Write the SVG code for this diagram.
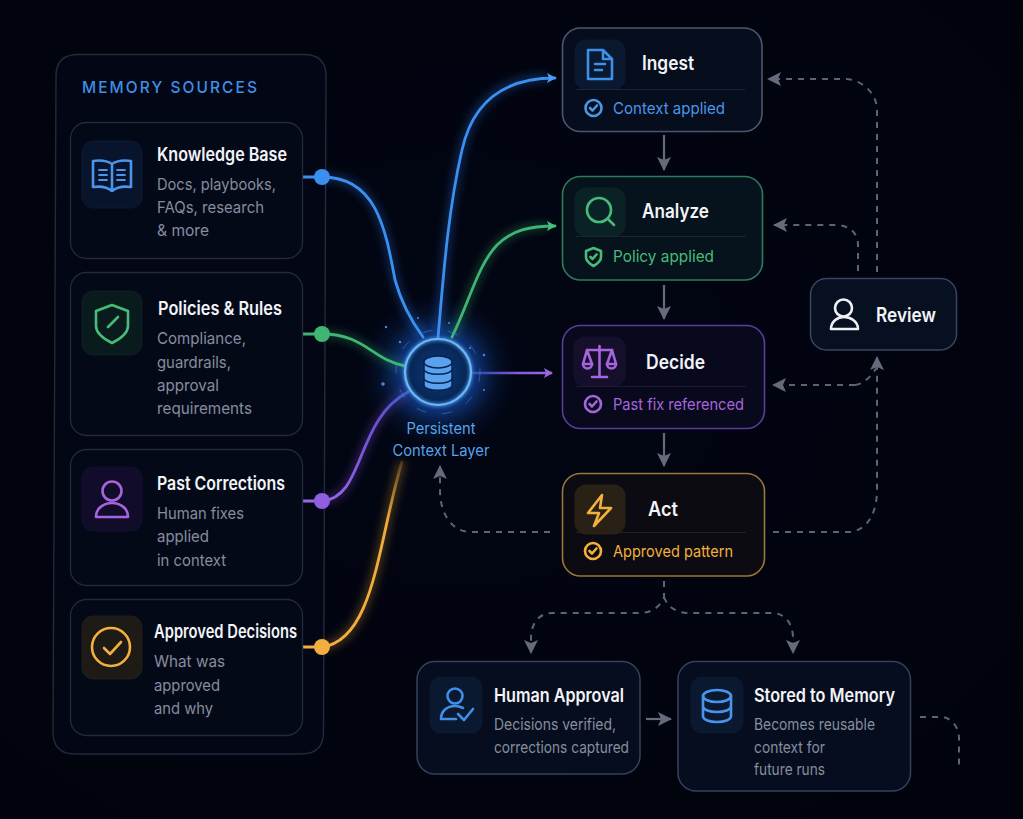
<svg xmlns="http://www.w3.org/2000/svg" width="1023" height="819" viewBox="0 0 1023 819">
<style>
text{font-family:Inter,"Liberation Sans",sans-serif}
.t{font-size:18.500px;font-weight:600;fill:#f2f4f8}
.ft{font-size:19.500px;font-weight:600;fill:#f2f4f8}
.d{font-size:16.500px;font-weight:400;fill:#868d9f}
.s{font-size:16.500px;font-weight:400}
.card{fill:#040918;stroke:#232a3d;stroke-width:1.300}
.ib{stroke-width:.8}
.ic{fill:none;stroke-width:2.600;stroke-linecap:round;stroke-linejoin:round}
.dash{fill:none;stroke:#5f6475;stroke-width:2;stroke-dasharray:6 6}
.arr{fill:none;stroke:#666b7c;stroke-width:2.200}
.c{fill:none;stroke-width:2.800;stroke-linecap:round}
.g{fill:none;stroke-width:8;opacity:.3;filter:url(#b4)}
</style>
<defs>
<filter id="b4" x="-50%" y="-50%" width="200%" height="200%"><feGaussianBlur stdDeviation="4"/></filter>
<filter id="b1" x="-50%" y="-50%" width="200%" height="200%"><feGaussianBlur stdDeviation="1.500"/></filter>
<radialGradient id="hub"><stop offset="0" stop-color="#2f7df0" stop-opacity=".85"/><stop offset=".5" stop-color="#1a5ad0" stop-opacity=".5"/><stop offset=".75" stop-color="#124aa0" stop-opacity=".16"/><stop offset="1" stop-color="#0a2a70" stop-opacity="0"/></radialGradient>
<radialGradient id="bg" cx="45%" cy="45%" r="70%"><stop offset="0" stop-color="#020614"/><stop offset="1" stop-color="#01030c"/></radialGradient>
<radialGradient id="core"><stop offset="0" stop-color="#0d3a80"/><stop offset="1" stop-color="#07234f"/></radialGradient>
<linearGradient id="fA" gradientUnits="userSpaceOnUse" x1="322" y1="647" x2="402" y2="462"><stop offset="0" stop-color="#f2ae3e"/><stop offset=".7" stop-color="#f0ad3c"/><stop offset="1" stop-color="#f0ad3c" stop-opacity=".2"/></linearGradient>
<linearGradient id="fP" gradientUnits="userSpaceOnUse" x1="322" y1="501" x2="408" y2="392"><stop offset="0" stop-color="#9a66e6"/><stop offset=".7" stop-color="#6a50d0"/><stop offset="1" stop-color="#3f5ed0"/></linearGradient>
<linearGradient id="fR" gradientUnits="userSpaceOnUse" x1="468" y1="373" x2="552" y2="373"><stop offset="0" stop-color="#3d5fd8" stop-opacity=".6"/><stop offset=".6" stop-color="#8a5be0"/><stop offset="1" stop-color="#9a66e0"/></linearGradient>
<marker id="mB" viewBox="0 0 10 10" refX="9" refY="5" markerWidth="10" markerHeight="10" markerUnits="userSpaceOnUse" orient="auto"><path d="M1 0L10 5L1 10L3 5Z" fill="#4a9cf5"/></marker>
<marker id="mG" viewBox="0 0 10 10" refX="9" refY="5" markerWidth="10" markerHeight="10" markerUnits="userSpaceOnUse" orient="auto"><path d="M1 0L10 5L1 10L3 5Z" fill="#48c07a"/></marker>
<marker id="mP" viewBox="0 0 10 10" refX="9" refY="5" markerWidth="10" markerHeight="10" markerUnits="userSpaceOnUse" orient="auto"><path d="M1 0L10 5L1 10L3 5Z" fill="#9a66e0"/></marker>
<marker id="mX" viewBox="0 0 14 14" refX="13" refY="7" markerWidth="14" markerHeight="14" markerUnits="userSpaceOnUse" orient="auto"><path d="M0 0L14 7L0 14L3 7Z" fill="#666b7c"/></marker>
</defs>
<rect width="1023" height="819" fill="url(#bg)"/>

<g id="memory-sources">
<path d="M78 54.500H304Q326 54.500 326 76L323.500 732Q323.500 754 301 754H75Q53 754 53 732L56 76Q56 54.500 78 54.500Z" fill="#030715" stroke="#232a3c" stroke-width="1.400"/>
<text x="82" y="93" textLength="177" lengthAdjust="spacingAndGlyphs" style="font-size:16.500px;font-weight:500;letter-spacing:2.200px;fill:#3f8fe6">MEMORY SOURCES</text>
</g>

<g id="connectors">
<circle cx="438" cy="372" r="78" fill="url(#hub)"/>
<path class="g" stroke="#2f80f0" d="M322 177C375 177 385 225 395 280C402 305 412 322 423 337"/>
<path class="g" stroke="#2f80f0" d="M438 338C443 280 448 210 462 150C472 105 500 78 548 78"/>
<path class="g" stroke="#34b06c" d="M322 334C365 334 372 360 405 366"/>
<path class="g" stroke="#34b06c" d="M452 337C470 300 478 265 497 245C512 230 530 226 548 226"/>
<path class="g" stroke="#8a55e0" d="M322 501C365 498 355 420 408 392"/>
<path class="g" stroke="#f0a830" d="M322 647C375 640 378 540 402 462"/>
<path class="c" stroke="#3b8ff0" d="M303 177H322C375 177 385 225 395 280C402 305 412 322 423 337"/>
<path class="c" stroke="#3b8ff0" marker-end="url(#mB)" d="M438 338C443 280 448 210 462 150C472 105 500 78 555 78"/>
<path class="c" stroke="#3fb573" d="M303 334H322C365 334 372 360 405 366"/>
<path class="c" stroke="#3fb573" marker-end="url(#mG)" d="M452 337C470 300 478 265 497 245C512 230 530 226 555 226"/>
<path class="c" stroke="url(#fP)" d="M303 501H322C365 498 355 420 408 392"/>
<path class="c" stroke="url(#fA)" d="M303 647H322C375 640 378 540 402 462"/>
<path fill="none" stroke="url(#fR)" stroke-width="2.500" marker-end="url(#mP)" d="M468 373H552"/>
<circle cx="322" cy="177" r="8" fill="#3b8ff0"/>
<circle cx="322" cy="334" r="8" fill="#3fb573"/>
<circle cx="322" cy="501" r="8" fill="#8f5fe0"/>
<circle cx="322" cy="647" r="8" fill="#f2ae3e"/>
<path class="arr" marker-end="url(#mX)" d="M664 135V170"/>
<path class="arr" marker-end="url(#mX)" d="M664 285V319"/>
<path class="arr" marker-end="url(#mX)" d="M664 433V466"/>
<path class="arr" marker-end="url(#mX)" d="M646 719H671"/>
<path class="dash" marker-end="url(#mX)" d="M877 272V110C877 92 860 79 845 79H768"/>
<path class="dash" marker-end="url(#mX)" d="M858 271V245C858 232 848 225 836 225H774"/>
<path class="dash" marker-end="url(#mX)" d="M855 385C865 384 872 375 877 367M855 385H773"/>
<path class="dash" marker-end="url(#mX)" d="M773 532H850C868 530 877 512 877 490V357"/>
<path class="dash" marker-end="url(#mX)" d="M550 532H470C450 531 440 512 440 490V466"/>
<path class="dash" marker-end="url(#mX)" d="M664 581V597C660 608 650 613 640 613H552C538 613 531 625 531 638V653"/>
<path class="dash" marker-end="url(#mX)" d="M664 597C668 608 678 613 688 613H772C786 613 793 625 793 638V653"/>
<path class="dash" d="M920 717H942C952 718 959 728 959 738V768"/>
</g>

<g id="knowledge-base">
<rect class="card" x="70.500" y="122.500" width="232" height="136" rx="16"/>
<rect class="ib" x="82" y="141" width="60" height="67" rx="11" fill="#07142b" stroke="#0d1d38"/>
<g class="ic" stroke="#4a94ec"><path d="M112 164C106 160 100 160 93 161V187C100 186 106 186 112 191C118 186 124 186 131 187V161C124 160 118 160 112 164ZM112 164V191"/><path stroke-width="1.800" d="M99 170H107M99 175H107M99 180H107M117 170H125M117 175H125M117 180H125"/></g>
<text class="t" x="157" y="161" textLength="130" lengthAdjust="spacingAndGlyphs">Knowledge Base</text>
<text class="d" x="157" y="190" textLength="119" lengthAdjust="spacingAndGlyphs">Docs, playbooks,</text>
<text class="d" x="157" y="213" textLength="107" lengthAdjust="spacingAndGlyphs">FAQs, research</text>
<text class="d" x="157" y="236" textLength="52" lengthAdjust="spacingAndGlyphs">&amp; more</text>
</g>

<g id="policies-rules">
<rect class="card" x="70.500" y="272.500" width="232" height="163" rx="16"/>
<rect class="ib" x="82" y="291" width="60" height="64" rx="11" fill="#0a1b1e" stroke="#0e2124"/>
<g class="ic" stroke="#45bd78"><path d="M112 305L128 311V326C128 333 120 339 112 343C104 339 96 333 96 326V311Z"/><path d="M108 327L118 317"/></g>
<text class="t" x="158" y="315" textLength="124" lengthAdjust="spacingAndGlyphs">Policies &amp; Rules</text>
<text class="d" x="157" y="344" textLength="89" lengthAdjust="spacingAndGlyphs">Compliance,</text>
<text class="d" x="157" y="368" textLength="74" lengthAdjust="spacingAndGlyphs">guardrails,</text>
<text class="d" x="157" y="391" textLength="62" lengthAdjust="spacingAndGlyphs">approval</text>
<text class="d" x="157" y="414" textLength="95" lengthAdjust="spacingAndGlyphs">requirements</text>
</g>

<g id="past-corrections">
<rect class="card" x="70.500" y="449.500" width="232" height="136" rx="16"/>
<rect class="ib" x="82" y="467" width="60" height="64" rx="11" fill="#110c2a" stroke="#161033"/>
<g class="ic" stroke="#a665dc"><circle cx="112" cy="491" r="9.500"/><path d="M96 517C96 508 104 503 112 503C120 503 128 508 128 517Z"/></g>
<text class="t" x="157" y="490" textLength="128" lengthAdjust="spacingAndGlyphs">Past Corrections</text>
<text class="d" x="157" y="519" textLength="87" lengthAdjust="spacingAndGlyphs">Human fixes</text>
<text class="d" x="157" y="542" textLength="52" lengthAdjust="spacingAndGlyphs">applied</text>
<text class="d" x="157" y="566" textLength="69" lengthAdjust="spacingAndGlyphs">in context</text>
</g>

<g id="approved-decisions">
<rect class="card" x="70.500" y="599.500" width="232" height="136" rx="16"/>
<rect class="ib" x="82" y="616" width="60" height="63" rx="11" fill="#1e1a16" stroke="#26211a"/>
<g class="ic" stroke="#f2b03c"><circle cx="111" cy="647" r="19"/><path d="M104 648L110 654L121 642"/></g>
<text class="t" x="154" y="638" textLength="143" lengthAdjust="spacingAndGlyphs">Approved Decisions</text>
<text class="d" x="154" y="667" textLength="71" lengthAdjust="spacingAndGlyphs">What was</text>
<text class="d" x="154" y="691" textLength="66" lengthAdjust="spacingAndGlyphs">approved</text>
<text class="d" x="154" y="714" textLength="59" lengthAdjust="spacingAndGlyphs">and why</text>
</g>

<g id="persistent-context-layer">
<circle cx="438" cy="372" r="33" fill="url(#core)" stroke="#9ad0f8" stroke-width="2.200"/>
<circle cx="438" cy="372" r="33" fill="none" stroke="#4aa0f5" stroke-width="5" opacity=".6" filter="url(#b1)"/>
<circle cx="438" cy="372" r="42" fill="none" stroke="#3f82d8" stroke-width="1" stroke-dasharray="10 16" opacity=".55"/>
<g fill="#5aa2f0" stroke="#07234f" stroke-width="1.500"><path d="M424 379V385C424 392 452 392 452 385V379Z"/><path d="M424 370V378C424 385 452 385 452 378V370Z"/><path d="M424 362V369C424 376 452 376 452 369V362Z"/><ellipse cx="438" cy="362" rx="14" ry="6"/></g>
<g fill="#4a8ae0"><circle cx="383" cy="384" r="1.800"/><circle cx="386" cy="327" r="1.200"/><circle cx="484" cy="355" r="1.200"/><circle cx="400" cy="342" r="1.200"/><circle cx="484" cy="390" r="1"/><circle cx="449" cy="323" r="1"/><circle cx="418" cy="318" r="1"/><circle cx="470" cy="348" r="1"/></g>
<text x="441" y="434" text-anchor="middle" textLength="69" lengthAdjust="spacingAndGlyphs" style="font-size:15.500px;fill:#58a3ea">Persistent</text>
<text x="441" y="456" text-anchor="middle" textLength="97" lengthAdjust="spacingAndGlyphs" style="font-size:15.500px;fill:#58a3ea">Context Layer</text>
</g>

<g id="ingest">
<rect x="562.500" y="28" width="199.500" height="103.500" rx="18" fill="#060d1c" stroke="#4c5672" stroke-width="1.600"/>
<rect class="ib" x="575" y="40" width="50" height="49" rx="11" fill="#0a1930" stroke="#0d1d36"/>
<path d="M576 89.500H745" stroke="#1c2536"/>
<g class="ic" stroke="#3f8fe8" stroke-width="2"><path d="M588 50H603L612 59V79H588ZM603 50V59H612"/><path d="M595 64H605M595 70H602"/></g>
<text class="ft" x="642" y="70" textLength="52" lengthAdjust="spacingAndGlyphs">Ingest</text>
<g class="ic" stroke="#4a97ea" stroke-width="1.800"><circle cx="593.500" cy="108" r="8"/><path d="M590 108L592.500 110.500L597 105.500"/></g>
<text class="s" x="613" y="114" fill="#4a97ea" textLength="112" lengthAdjust="spacingAndGlyphs">Context applied</text>
</g>

<g id="analyze">
<rect x="562.500" y="176.500" width="200" height="103.500" rx="18" fill="#06121c" stroke="#2f7a5c" stroke-width="1.600"/>
<rect class="ib" x="575" y="188" width="50" height="48" rx="11" fill="#0a2226" stroke="#0c2629"/>
<path d="M576 236.500H746" stroke="#16282c"/>
<g class="ic" stroke="#45bd78"><circle cx="599" cy="210" r="12"/><path d="M608 219L614 225"/></g>
<text class="ft" x="642" y="218" textLength="67" lengthAdjust="spacingAndGlyphs">Analyze</text>
<g class="ic" stroke="#45bd78" stroke-width="1.800"><path d="M593.500 248L601 251V257C601 261 597 264 593.500 266C590 264 586 261 586 257V251Z"/><path d="M590.500 257L592.500 259L596.500 254.500"/></g>
<text class="s" x="613" y="262" fill="#45bd78" textLength="101" lengthAdjust="spacingAndGlyphs">Policy applied</text>
</g>

<g id="decide">
<rect x="562.500" y="325.500" width="202" height="103" rx="18" fill="#09091e" stroke="#5a3d96" stroke-width="1.600"/>
<rect class="ib" x="574" y="337" width="51" height="49" rx="11" fill="#150f2c" stroke="#191233"/>
<path d="M576 386.500H746" stroke="#1e1a33"/>
<g class="ic" stroke="#a665dc" stroke-width="2"><path d="M599.500 346V376M592 377H607M587 350H612"/><path d="M587 350L583 364H592ZM612 350L607 364H616Z"/><path d="M583 364C583 370 592 370 592 364M607 364C607 370 616 370 616 364"/></g>
<text class="ft" x="646" y="369" textLength="59" lengthAdjust="spacingAndGlyphs">Decide</text>
<g class="ic" stroke="#a665dc" stroke-width="1.800"><circle cx="593" cy="404" r="8"/><path d="M589.500 404L592 406.500L596.500 401.500"/></g>
<text class="s" x="613" y="410" fill="#a665dc" textLength="131" lengthAdjust="spacingAndGlyphs">Past fix referenced</text>
</g>

<g id="act">
<rect x="562.500" y="473.500" width="202" height="102.500" rx="18" fill="#0b0b11" stroke="#9a7638" stroke-width="1.600"/>
<rect class="ib" x="575" y="485" width="50" height="49" rx="11" fill="#2a2116" stroke="#2f2619"/>
<path d="M576 532.500H746" stroke="#26221b"/>
<path class="ic" stroke="#f2b03c" d="M602 495L588 513H599L594 526L611 508H600Z"/>
<text class="ft" x="648" y="516" textLength="30" lengthAdjust="spacingAndGlyphs">Act</text>
<g class="ic" stroke="#f2b03c" stroke-width="1.800"><circle cx="593" cy="551" r="8"/><path d="M589.500 551L592 553.500L596.500 548.500"/></g>
<text class="s" x="613" y="557" fill="#f2b03c" textLength="120" lengthAdjust="spacingAndGlyphs">Approved pattern</text>
</g>

<g id="review">
<rect x="810.500" y="278.500" width="146" height="71.500" rx="16" fill="#071020" stroke="#3b4460" stroke-width="1.500"/>
<g class="ic" stroke="#eef0f5"><circle cx="843.500" cy="308" r="8.500"/><path d="M831 329C831 321 838 317 844 317C850 317 858 321 858 329Z"/></g>
<text class="ft" x="876" y="322" textLength="60" lengthAdjust="spacingAndGlyphs">Review</text>
</g>

<g id="human-approval">
<rect x="417" y="661.500" width="223" height="112.500" rx="18" fill="#060d1e" stroke="#36415c" stroke-width="1.500"/>
<rect class="ib" x="430" y="677" width="52" height="56" rx="11" fill="#0a1930" stroke="#0d1d36"/>
<g class="ic" stroke="#3f8fe8" stroke-width="2"><circle cx="455" cy="696" r="7.500"/><path d="M441 719C441 711 447 706 455 706C458 706 461 707 463 708M441 719H456"/><path d="M458 714L464 720L473 709"/></g>
<text class="t" x="494" y="702" textLength="130" lengthAdjust="spacingAndGlyphs">Human Approval</text>
<text class="d" x="494" y="730" textLength="122" lengthAdjust="spacingAndGlyphs">Decisions verified,</text>
<text class="d" x="494" y="753" textLength="135" lengthAdjust="spacingAndGlyphs">corrections captured</text>
</g>

<g id="stored-to-memory">
<rect x="678" y="661.500" width="232.500" height="129.500" rx="18" fill="#060d1e" stroke="#36415c" stroke-width="1.500"/>
<rect class="ib" x="691" y="677" width="52" height="56" rx="11" fill="#0a1930" stroke="#0d1d36"/>
<g class="ic" stroke="#4a94ec"><ellipse cx="717" cy="696" rx="14" ry="6"/><path d="M703 696V716C703 724 731 724 731 716V696M703 706C703 714 731 714 731 706"/></g>
<text class="t" x="754" y="702" textLength="141" lengthAdjust="spacingAndGlyphs">Stored to Memory</text>
<text class="d" x="754" y="730" textLength="121" lengthAdjust="spacingAndGlyphs">Becomes reusable</text>
<text class="d" x="754" y="753" textLength="71" lengthAdjust="spacingAndGlyphs">context for</text>
<text class="d" x="754" y="775" textLength="71" lengthAdjust="spacingAndGlyphs">future runs</text>
</g>
</svg>
